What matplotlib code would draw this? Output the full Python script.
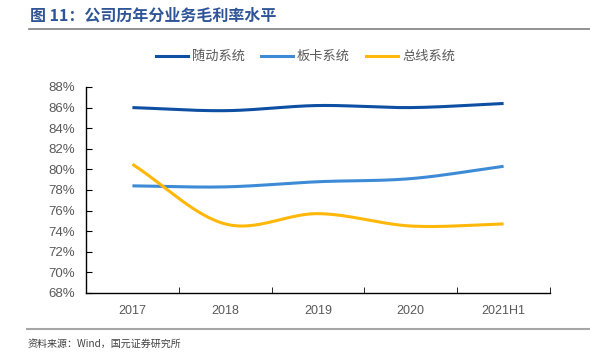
import numpy as np
import matplotlib.pyplot as plt
from matplotlib.lines import Line2D

plt.rcParams['font.family'] = ['Liberation Sans', 'Noto Sans CJK SC', 'DejaVu Sans']

# 数据
years = ['2017', '2018', '2019', '2020', '2021H1']
servo = [86.0, 85.7, 86.2, 86.0, 86.4]      # 随动系统
board = [78.4, 78.3, 78.8, 79.1, 80.3]      # 板卡系统
bus = [80.5, 74.7, 75.7, 74.5, 74.7]        # 总线系统

series_names = ['随动系统', '板卡系统', '总线系统']
colors = ['#0D4FA3', '#3D8BD6', '#FFB80A']


def smooth(y, n=40):
    # Catmull-Rom 插值，模拟 Excel 平滑线
    y = np.asarray(y, dtype=float)
    p = np.concatenate([[2 * y[0] - y[1]], y, [2 * y[-1] - y[-2]]])
    xs, ys = [], []
    for i in range(len(y) - 1):
        p0, p1, p2, p3 = p[i], p[i + 1], p[i + 2], p[i + 3]
        t = np.linspace(0, 1, n, endpoint=False)
        seg = 0.5 * ((2 * p1) + (-p0 + p2) * t
                     + (2 * p0 - 5 * p1 + 4 * p2 - p3) * t ** 2
                     + (-p0 + 3 * p1 - 3 * p2 + p3) * t ** 3)
        xs.append(i + t)
        ys.append(seg)
    xs.append([len(y) - 1])
    ys.append([y[-1]])
    return np.concatenate(xs), np.concatenate(ys)


fig = plt.figure(figsize=(5.9, 3.59), dpi=100)
ax = fig.add_axes([0.1458, 0.184, 0.7864, 0.5737])

for vals, c in zip([servo, board, bus], colors):
    sx, sy = smooth(vals)
    ax.plot(sx, sy, color=c, lw=2.2, solid_capstyle='butt')

ax.set_xlim(-0.5, len(years) - 0.5)
ax.set_ylim(68, 88)
ax.set_yticks(np.arange(68, 89, 2))
ax.set_yticklabels([f'{v}%' for v in range(68, 89, 2)])
ax.set_xticks(range(len(years)))
ax.set_xticklabels(years)
ax.set_xticks(np.arange(-0.5, len(years)), minor=True)
ax.tick_params(axis='x', which='major', length=0, pad=9, labelsize=9, labelcolor='#595959')
ax.tick_params(axis='x', which='minor', length=4, direction='in', color='black')
ax.tick_params(axis='y', length=4, direction='in', pad=8, labelsize=9.5,
               labelcolor='#595959', color='black')
for s in ['top', 'right']:
    ax.spines[s].set_visible(False)
for s in ['left', 'bottom']:
    ax.spines[s].set_color('black')
    ax.spines[s].set_linewidth(1.0)

# 图例
handles = [Line2D([0], [0], color=c, lw=2.2) for c in colors]
fig.legend(handles, series_names, loc='center', bbox_to_anchor=(0.518, 0.842),
           ncol=3, frameon=False, handlelength=2.4, handletextpad=0.3, columnspacing=1.25,
           prop={'family': ['Noto Sans CJK SC'], 'size': 9.5}, labelcolor='#595959')

# 标题
fig.text(0.051, 0.935, '图 11：公司历年分业务毛利率水平', fontsize=11.5, fontweight='bold',
         color='#2F5597', family=['Noto Sans CJK SC', 'DejaVu Sans'], va='bottom')
fig.add_artist(Line2D([0.049, 1.0], [0.918, 0.918], color='#7F7F7F', lw=1.2))

# 来源
fig.add_artist(Line2D([0.046, 1.0], [0.083, 0.083], color='#A6A6A6', lw=1.5))
fig.text(0.046, 0.042, '资料来源：Wind，国元证券研究所', fontsize=7.2, color='#404040',
         family=['Noto Sans CJK SC', 'DejaVu Sans'], va='center')

fig.savefig('out.png', dpi=100)
